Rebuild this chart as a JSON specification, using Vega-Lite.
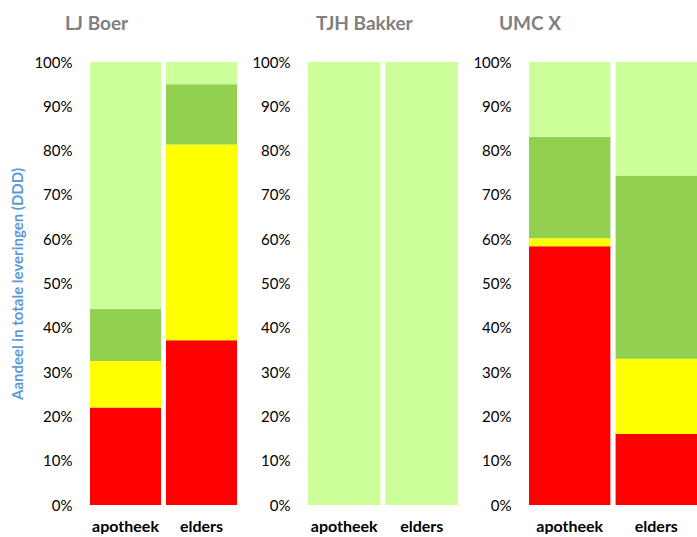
{
  "$schema": "https://vega.github.io/schema/vega-lite/v6.json",
  "padding": {"left": 10, "top": 15, "right": 0, "bottom": 0},
  "spacing": 14,
  "background": "white",
  "data": {
    "values": [
      {"arts": "LJ Boer", "plaats": "apotheek", "klasse": "rood", "volgorde": 1, "aandeel": 22.0},
      {"arts": "LJ Boer", "plaats": "apotheek", "klasse": "geel", "volgorde": 2, "aandeel": 10.5},
      {"arts": "LJ Boer", "plaats": "apotheek", "klasse": "groen", "volgorde": 3, "aandeel": 11.8},
      {"arts": "LJ Boer", "plaats": "apotheek", "klasse": "lichtgroen", "volgorde": 4, "aandeel": 55.7},
      {"arts": "LJ Boer", "plaats": "elders", "klasse": "rood", "volgorde": 1, "aandeel": 37.2},
      {"arts": "LJ Boer", "plaats": "elders", "klasse": "geel", "volgorde": 2, "aandeel": 44.2},
      {"arts": "LJ Boer", "plaats": "elders", "klasse": "groen", "volgorde": 3, "aandeel": 13.6},
      {"arts": "LJ Boer", "plaats": "elders", "klasse": "lichtgroen", "volgorde": 4, "aandeel": 5.0},
      {"arts": "TJH Bakker", "plaats": "apotheek", "klasse": "lichtgroen", "volgorde": 4, "aandeel": 100},
      {"arts": "TJH Bakker", "plaats": "elders", "klasse": "lichtgroen", "volgorde": 4, "aandeel": 100},
      {"arts": "UMC X", "plaats": "apotheek", "klasse": "rood", "volgorde": 1, "aandeel": 58.4},
      {"arts": "UMC X", "plaats": "apotheek", "klasse": "geel", "volgorde": 2, "aandeel": 1.8},
      {"arts": "UMC X", "plaats": "apotheek", "klasse": "groen", "volgorde": 3, "aandeel": 22.9},
      {"arts": "UMC X", "plaats": "apotheek", "klasse": "lichtgroen", "volgorde": 4, "aandeel": 16.9},
      {"arts": "UMC X", "plaats": "elders", "klasse": "rood", "volgorde": 1, "aandeel": 16.0},
      {"arts": "UMC X", "plaats": "elders", "klasse": "geel", "volgorde": 2, "aandeel": 17.0},
      {"arts": "UMC X", "plaats": "elders", "klasse": "groen", "volgorde": 3, "aandeel": 41.4},
      {"arts": "UMC X", "plaats": "elders", "klasse": "lichtgroen", "volgorde": 4, "aandeel": 25.6}
    ]
  },
  "hconcat": [
    {
      "title": {"text": "LJ Boer", "dx": -25},
      "width": 147,
      "height": 443,
      "transform": [{"filter": "datum.arts === 'LJ Boer'"}],
      "mark": {"type": "bar"},
      "encoding": {
        "x": {"field": "plaats", "type": "nominal", "sort": ["apotheek", "elders"], "scale": {"paddingInner": 0.065, "paddingOuter": 0}, "axis": {"title": null}},
        "y": {"field": "aandeel", "type": "quantitative", "stack": true, "scale": {"domain": [0, 100]}, "axis": {"title": "Aandeel in totale leveringen (DDD)"}},
        "color": {"field": "klasse", "type": "nominal", "scale": {"domain": ["rood", "geel", "groen", "lichtgroen"], "range": ["#FF0000", "#FFFF00", "#92D050", "#CCFF99"]}, "legend": null},
        "order": {"field": "volgorde", "type": "quantitative", "sort": "ascending"}
      }
    },
    {
      "title": {"text": "TJH Bakker", "dx": 8},
      "width": 150,
      "height": 443,
      "transform": [{"filter": "datum.arts === 'TJH Bakker'"}],
      "mark": {"type": "bar"},
      "encoding": {
        "x": {"field": "plaats", "type": "nominal", "sort": ["apotheek", "elders"], "scale": {"paddingInner": 0.065, "paddingOuter": 0}, "axis": {"title": null}},
        "y": {"field": "aandeel", "type": "quantitative", "stack": true, "scale": {"domain": [0, 100]}, "axis": {"title": null}},
        "color": {"field": "klasse", "type": "nominal", "scale": {"domain": ["rood", "geel", "groen", "lichtgroen"], "range": ["#FF0000", "#FFFF00", "#92D050", "#CCFF99"]}, "legend": null},
        "order": {"field": "volgorde", "type": "quantitative", "sort": "ascending"}
      }
    },
    {
      "title": {"text": "UMC X", "dx": -30},
      "width": 168,
      "height": 443,
      "transform": [{"filter": "datum.arts === 'UMC X'"}],
      "mark": {"type": "bar"},
      "encoding": {
        "x": {"field": "plaats", "type": "nominal", "sort": ["apotheek", "elders"], "scale": {"paddingInner": 0.06, "paddingOuter": 0}, "axis": {"title": null}},
        "y": {"field": "aandeel", "type": "quantitative", "stack": true, "scale": {"domain": [0, 100]}, "axis": {"title": null}},
        "color": {"field": "klasse", "type": "nominal", "scale": {"domain": ["rood", "geel", "groen", "lichtgroen"], "range": ["#FF0000", "#FFFF00", "#92D050", "#CCFF99"]}, "legend": null},
        "order": {"field": "volgorde", "type": "quantitative", "sort": "ascending"}
      }
    }
  ],
  "config": {
    "font": "Lato",
    "view": {"stroke": null},
    "title": {"anchor": "start", "frame": "group", "fontSize": 19, "fontWeight": "bold", "color": "#808080", "offset": 21, "font": "Lato"},
    "axisX": {"domain": false, "ticks": false, "grid": false, "labelAngle": 0, "labelFontSize": 16, "labelFontWeight": "bold", "labelColor": "#000000", "labelPadding": 13, "labelFont": "Lato"},
    "axisY": {"domain": false, "ticks": false, "tickSize": 0, "grid": false, "values": [0, 10, 20, 30, 40, 50, 60, 70, 80, 90, 100], "labelExpr": "datum.value + '%'", "labelFontSize": 15, "labelColor": "#000000", "labelPadding": 18, "labelFont": "Lato", "titleFontSize": 15, "titleFontWeight": "bold", "titleColor": "#5B9BD5", "titlePadding": 8, "titleFont": "Lato"}
  }
}
